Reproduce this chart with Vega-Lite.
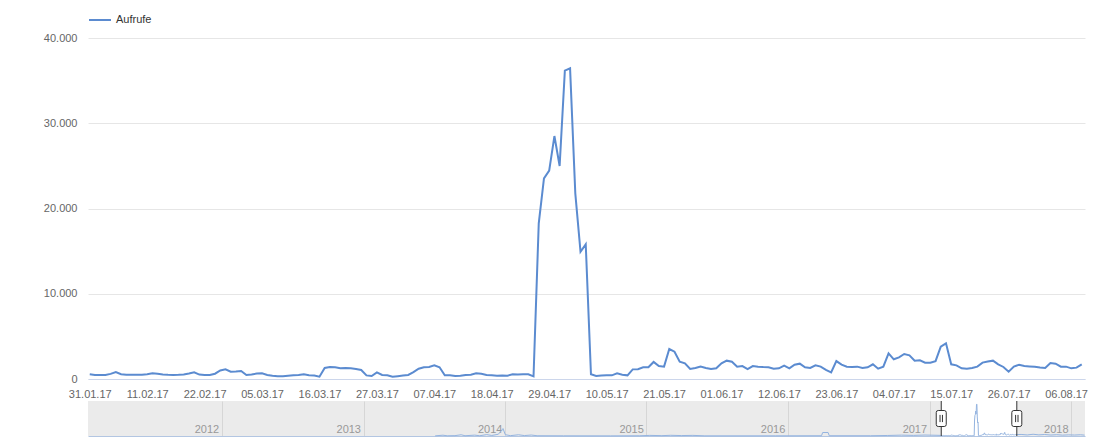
{
  "$schema": "https://vega.github.io/schema/vega-lite/v6.json",
  "padding": {"left": 43, "top": 8, "right": 0, "bottom": 0},
  "background": "white",
  "config": {
    "view": {"stroke": null},
    "font": "Liberation Sans",
    "axis": {"labelFont": "Liberation Sans"},
    "legend": {"labelFont": "Liberation Sans"}
  },
  "datasets": {
    "main": [
      {"d":"2017-01-31","v":550},
      {"d":"2017-02-01","v":470},{"d":"2017-02-02","v":460},{"d":"2017-02-03","v":480},{"d":"2017-02-04","v":600},{"d":"2017-02-05","v":820},{"d":"2017-02-06","v":560},{"d":"2017-02-07","v":500},{"d":"2017-02-08","v":490},{"d":"2017-02-09","v":510},{"d":"2017-02-10","v":500},{"d":"2017-02-11","v":560},{"d":"2017-02-12","v":660},{"d":"2017-02-13","v":620},{"d":"2017-02-14","v":540},{"d":"2017-02-15","v":500},{"d":"2017-02-16","v":480},{"d":"2017-02-17","v":490},{"d":"2017-02-18","v":520},{"d":"2017-02-19","v":640},{"d":"2017-02-20","v":780},{"d":"2017-02-21","v":520},{"d":"2017-02-22","v":470},{"d":"2017-02-23","v":480},{"d":"2017-02-24","v":620},{"d":"2017-02-25","v":1000},{"d":"2017-02-26","v":1130},{"d":"2017-02-27","v":860},{"d":"2017-02-28","v":880},
      {"d":"2017-03-01","v":940},{"d":"2017-03-02","v":470},{"d":"2017-03-03","v":520},{"d":"2017-03-04","v":640},{"d":"2017-03-05","v":660},{"d":"2017-03-06","v":480},{"d":"2017-03-07","v":380},{"d":"2017-03-08","v":330},{"d":"2017-03-09","v":320},{"d":"2017-03-10","v":380},{"d":"2017-03-11","v":430},{"d":"2017-03-12","v":470},{"d":"2017-03-13","v":550},{"d":"2017-03-14","v":450},{"d":"2017-03-15","v":400},{"d":"2017-03-16","v":270},{"d":"2017-03-17","v":1300},{"d":"2017-03-18","v":1400},{"d":"2017-03-19","v":1370},{"d":"2017-03-20","v":1250},{"d":"2017-03-21","v":1300},{"d":"2017-03-22","v":1250},{"d":"2017-03-23","v":1180},{"d":"2017-03-24","v":1060},{"d":"2017-03-25","v":420},{"d":"2017-03-26","v":350},{"d":"2017-03-27","v":780},{"d":"2017-03-28","v":470},{"d":"2017-03-29","v":430},{"d":"2017-03-30","v":270},{"d":"2017-03-31","v":330},
      {"d":"2017-04-01","v":400},{"d":"2017-04-02","v":470},{"d":"2017-04-03","v":800},{"d":"2017-04-04","v":1200},{"d":"2017-04-05","v":1370},{"d":"2017-04-06","v":1410},{"d":"2017-04-07","v":1600},{"d":"2017-04-08","v":1370},{"d":"2017-04-09","v":430},{"d":"2017-04-10","v":430},{"d":"2017-04-11","v":350},{"d":"2017-04-12","v":370},{"d":"2017-04-13","v":470},{"d":"2017-04-14","v":500},{"d":"2017-04-15","v":660},{"d":"2017-04-16","v":620},{"d":"2017-04-17","v":470},{"d":"2017-04-18","v":430},{"d":"2017-04-19","v":390},{"d":"2017-04-20","v":400},{"d":"2017-04-21","v":390},{"d":"2017-04-22","v":550},{"d":"2017-04-23","v":520},{"d":"2017-04-24","v":560},{"d":"2017-04-25","v":550},{"d":"2017-04-26","v":310},{"d":"2017-04-27","v":18260},{"d":"2017-04-28","v":23540},{"d":"2017-04-29","v":24440},{"d":"2017-04-30","v":28500},
      {"d":"2017-05-01","v":24990},{"d":"2017-05-02","v":36170},{"d":"2017-05-03","v":36440},{"d":"2017-05-04","v":21780},{"d":"2017-05-05","v":14930},{"d":"2017-05-06","v":15800},{"d":"2017-05-07","v":550},{"d":"2017-05-08","v":350},{"d":"2017-05-09","v":420},{"d":"2017-05-10","v":430},{"d":"2017-05-11","v":430},{"d":"2017-05-12","v":660},{"d":"2017-05-13","v":500},{"d":"2017-05-14","v":430},{"d":"2017-05-15","v":1130},{"d":"2017-05-16","v":1150},{"d":"2017-05-17","v":1370},{"d":"2017-05-18","v":1370},{"d":"2017-05-19","v":2000},{"d":"2017-05-20","v":1520},{"d":"2017-05-21","v":1450},{"d":"2017-05-22","v":3520},{"d":"2017-05-23","v":3200},{"d":"2017-05-24","v":2030},{"d":"2017-05-25","v":1840},{"d":"2017-05-26","v":1170},{"d":"2017-05-27","v":1300},{"d":"2017-05-28","v":1450},{"d":"2017-05-29","v":1300},{"d":"2017-05-30","v":1170},{"d":"2017-05-31","v":1250},
      {"d":"2017-06-01","v":1840},{"d":"2017-06-02","v":2150},{"d":"2017-06-03","v":2030},{"d":"2017-06-04","v":1450},{"d":"2017-06-05","v":1520},{"d":"2017-06-06","v":1170},{"d":"2017-06-07","v":1520},{"d":"2017-06-08","v":1450},{"d":"2017-06-09","v":1400},{"d":"2017-06-10","v":1370},{"d":"2017-06-11","v":1210},{"d":"2017-06-12","v":1250},{"d":"2017-06-13","v":1560},{"d":"2017-06-14","v":1250},{"d":"2017-06-15","v":1680},{"d":"2017-06-16","v":1800},{"d":"2017-06-17","v":1370},{"d":"2017-06-18","v":1290},{"d":"2017-06-19","v":1600},{"d":"2017-06-20","v":1450},{"d":"2017-06-21","v":1060},{"d":"2017-06-22","v":780},{"d":"2017-06-23","v":2100},{"d":"2017-06-24","v":1680},{"d":"2017-06-25","v":1450},{"d":"2017-06-26","v":1410},{"d":"2017-06-27","v":1450},{"d":"2017-06-28","v":1290},{"d":"2017-06-29","v":1370},{"d":"2017-06-30","v":1720},
      {"d":"2017-07-01","v":1210},{"d":"2017-07-02","v":1450},{"d":"2017-07-03","v":3010},{"d":"2017-07-04","v":2310},{"d":"2017-07-05","v":2540},{"d":"2017-07-06","v":2930},{"d":"2017-07-07","v":2780},{"d":"2017-07-08","v":2150},{"d":"2017-07-09","v":2190},{"d":"2017-07-10","v":1920},{"d":"2017-07-11","v":1900},{"d":"2017-07-12","v":2100},{"d":"2017-07-13","v":3790},{"d":"2017-07-14","v":4180},{"d":"2017-07-15","v":1720},{"d":"2017-07-16","v":1600},{"d":"2017-07-17","v":1250},{"d":"2017-07-18","v":1210},{"d":"2017-07-19","v":1300},{"d":"2017-07-20","v":1450},{"d":"2017-07-21","v":1920},{"d":"2017-07-22","v":2050},{"d":"2017-07-23","v":2150},{"d":"2017-07-24","v":1720},{"d":"2017-07-25","v":1410},{"d":"2017-07-26","v":860},{"d":"2017-07-27","v":1450},{"d":"2017-07-28","v":1680},{"d":"2017-07-29","v":1520},{"d":"2017-07-30","v":1480},{"d":"2017-07-31","v":1450},
      {"d":"2017-08-01","v":1350},{"d":"2017-08-02","v":1290},{"d":"2017-08-03","v":1880},{"d":"2017-08-04","v":1800},{"d":"2017-08-05","v":1450},{"d":"2017-08-06","v":1450},{"d":"2017-08-07","v":1250},{"d":"2017-08-08","v":1330},{"d":"2017-08-09","v":1720}
    ],
    "hist": [
      {"d":"2013-07-05","v":200,"seg":"a"},{"d":"2013-07-25","v":900,"seg":"a"},{"d":"2013-08-05","v":250,"seg":"a"},{"d":"2013-08-25","v":400,"seg":"a"},{"d":"2013-09-10","v":1400,"seg":"a"},{"d":"2013-09-20","v":300,"seg":"a"},{"d":"2013-10-15","v":1000,"seg":"a"},{"d":"2013-10-28","v":300,"seg":"a"},{"d":"2013-11-15","v":1600,"seg":"a"},{"d":"2013-11-28","v":600,"seg":"a"},{"d":"2013-12-15","v":2000,"seg":"a"},{"d":"2013-12-27","v":8500,"seg":"a"},{"d":"2014-01-02","v":1500,"seg":"a"},{"d":"2014-01-15","v":400,"seg":"a"},{"d":"2014-02-05","v":1400,"seg":"a"},{"d":"2014-02-20","v":500,"seg":"a"},{"d":"2014-03-10","v":1100,"seg":"a"},{"d":"2014-03-25","v":300,"seg":"a"},{"d":"2014-06-01","v":200,"seg":"a"},{"d":"2014-10-01","v":150,"seg":"a"},{"d":"2014-12-15","v":250,"seg":"a"},{"d":"2015-01-10","v":700,"seg":"a"},{"d":"2015-02-10","v":400,"seg":"a"},{"d":"2015-03-05","v":800,"seg":"a"},{"d":"2015-04-01","v":500,"seg":"a"},{"d":"2015-05-01","v":700,"seg":"a"},{"d":"2015-06-01","v":200,"seg":"a"},{"d":"2015-12-01","v":200,"seg":"a"},{"d":"2016-03-28","v":300,"seg":"a"},{"d":"2016-03-31","v":4000,"seg":"a"},{"d":"2016-04-14","v":4000,"seg":"a"},{"d":"2016-04-17","v":300,"seg":"a"},{"d":"2016-08-01","v":300,"seg":"a"},{"d":"2016-09-15","v":600,"seg":"a"},{"d":"2016-10-20","v":1000,"seg":"a"},{"d":"2016-11-20","v":700,"seg":"a"},{"d":"2016-12-20","v":1100,"seg":"a"},{"d":"2017-01-30","v":700,"seg":"a"},
      {"d":"2017-08-10","v":1500,"seg":"b"},{"d":"2017-08-25","v":1800,"seg":"b"},{"d":"2017-09-10","v":1200,"seg":"b"},{"d":"2017-09-25","v":2000,"seg":"b"},{"d":"2017-10-10","v":1300,"seg":"b"},{"d":"2017-10-25","v":1700,"seg":"b"},{"d":"2017-11-10","v":1100,"seg":"b"},{"d":"2017-11-25","v":1500,"seg":"b"},{"d":"2017-12-10","v":1000,"seg":"b"},{"d":"2017-12-25","v":1300,"seg":"b"},{"d":"2018-01-10","v":1100,"seg":"b"},{"d":"2018-01-25","v":1400,"seg":"b"},{"d":"2018-02-05","v":1000,"seg":"b"}
    ],
    "sel": [{"s":"2017-01-31","e":"2017-08-14"}],
    "handles": [{"h":"2017-01-31"},{"h":"2017-08-14"}]
  },
  "bounds": "flush",
  "spacing": 22,
  "resolve": {"scale": {"color": "independent", "x": "independent", "y": "independent"}, "legend": {"color": "independent"}},
  "vconcat": [
    {
      "width": 997,
      "height": 341,
      "data": {"name": "main"},
      "mark": {"type": "line", "strokeWidth": 2, "interpolate": "linear"},
      "encoding": {
        "x": {
          "field": "d", "type": "temporal",
          "scale": {"type": "utc", "nice": false, "domain": [{"utc": true, "year": 2017, "month": 1, "date": 30, "hours": 16}, {"utc": true, "year": 2017, "month": 8, "date": 9, "hours": 15}]},
          "axis": {
            "title": null,
            "values": [
              {"utc": true, "year": 2017, "month": 1, "date": 31},
              {"utc": true, "year": 2017, "month": 2, "date": 11},
              {"utc": true, "year": 2017, "month": 2, "date": 22},
              {"utc": true, "year": 2017, "month": 3, "date": 5},
              {"utc": true, "year": 2017, "month": 3, "date": 16},
              {"utc": true, "year": 2017, "month": 3, "date": 27},
              {"utc": true, "year": 2017, "month": 4, "date": 7},
              {"utc": true, "year": 2017, "month": 4, "date": 18},
              {"utc": true, "year": 2017, "month": 4, "date": 29},
              {"utc": true, "year": 2017, "month": 5, "date": 10},
              {"utc": true, "year": 2017, "month": 5, "date": 21},
              {"utc": true, "year": 2017, "month": 6, "date": 1},
              {"utc": true, "year": 2017, "month": 6, "date": 12},
              {"utc": true, "year": 2017, "month": 6, "date": 23},
              {"utc": true, "year": 2017, "month": 7, "date": 4},
              {"utc": true, "year": 2017, "month": 7, "date": 15},
              {"utc": true, "year": 2017, "month": 7, "date": 26},
              {"utc": true, "year": 2017, "month": 8, "date": 6}
            ],
            "labelExpr": "utcFormat(datum.value, '%d.%m.%y')",
            "grid": false,
            "ticks": false,
            "tickSize": 0,
            "domainColor": "#ccd6eb",
            "domainWidth": 1,
            "labelPadding": 9,
            "labelFlush": false,
            "labelOverlap": false,
            "labelColor": "#666666",
            "labelFontSize": 11
          }
        },
        "y": {
          "field": "v", "type": "quantitative",
          "scale": {"domain": [0, 40000], "nice": false},
          "axis": {
            "title": null,
            "values": [0, 10000, 20000, 30000, 40000],
            "labelExpr": "replace(format(datum.value, ','), ',', '.')",
            "domain": false,
            "ticks": false,
            "tickSize": 0,
            "gridColor": "#e6e6e6",
            "labelPadding": 11,
            "labelColor": "#666666",
            "labelFontSize": 11
          }
        },
        "color": {
          "datum": "Aufrufe", "type": "nominal",
          "scale": {"range": ["#5b8bd0"]},
          "legend": {
            "title": null,
            "orient": "none",
            "legendX": 0,
            "legendY": -30,
            "padding": 0,
            "symbolType": "stroke",
            "symbolSize": 484,
            "symbolStrokeWidth": 2,
            "labelFontSize": 11,
            "labelColor": "#333333",
            "labelOffset": 4
          }
        }
      }
    },
    {
      "width": 997,
      "height": 35,
      "view": {"fill": "#ebebeb", "stroke": null},
      "layer": [
        {
          "data": {"name": "sel"},
          "mark": {"type": "rect", "fill": "white"},
          "encoding": {
            "x": {
              "field": "s", "type": "temporal",
              "scale": {"type": "utc", "nice": false, "domain": [{"utc": true, "year": 2011, "month": 1, "date": 21}, {"utc": true, "year": 2018, "month": 2, "date": 6}]},
              "axis": {
                "title": null,
                "values": [
                  {"utc": true, "year": 2012, "month": 1, "date": 1},
                  {"utc": true, "year": 2013, "month": 1, "date": 1},
                  {"utc": true, "year": 2014, "month": 1, "date": 1},
                  {"utc": true, "year": 2015, "month": 1, "date": 1},
                  {"utc": true, "year": 2016, "month": 1, "date": 1},
                  {"utc": true, "year": 2017, "month": 1, "date": 1},
                  {"utc": true, "year": 2018, "month": 1, "date": 1}
                ],
                "labelExpr": "utcFormat(datum.value, '%Y')",
                "grid": true,
                "gridColor": "#d6d6d6",
                "ticks": false,
                "tickSize": 0,
                "domainColor": "#b3c6e2",
                "labelAlign": "right",
                "labelBaseline": "alphabetic",
                "labelPadding": -4,
                "labelOffset": -3,
                "labelColor": "#999999",
                "labelFontSize": 11,
                "labelFlush": false,
                "labelOverlap": false
              }
            },
            "x2": {"field": "e"}
          }
        },
        {
          "data": {"name": "hist"},
          "mark": {"type": "line", "strokeWidth": 1, "color": "#94b4e0"},
          "encoding": {
            "x": {"field": "d", "type": "temporal"},
            "y": {"field": "v", "type": "quantitative", "scale": {"domain": [0, 40000], "nice": false}, "axis": null},
            "detail": {"field": "seg"}
          }
        },
        {
          "data": {"name": "main"},
          "mark": {"type": "line", "strokeWidth": 1, "color": "#94b4e0"},
          "encoding": {
            "x": {"field": "d", "type": "temporal"},
            "y": {"field": "v", "type": "quantitative", "axis": null}
          }
        },
        {
          "data": {"name": "handles"},
          "mark": {"type": "rule", "color": "#333333", "strokeWidth": 1},
          "encoding": {"x": {"field": "h", "type": "temporal"}}
        },
        {
          "data": {"name": "handles"},
          "mark": {
            "type": "point",
            "shape": "M-0.625,-0.75 Q-0.625,-1 -0.375,-1 L0.375,-1 Q0.625,-1 0.625,-0.75 L0.625,0.75 Q0.625,1 0.375,1 L-0.375,1 Q-0.625,1 -0.625,0.75 Z M-0.15,-0.45 L-0.15,0.45 M0.15,-0.45 L0.15,0.45",
            "size": 256,
            "filled": true,
            "fill": "white",
            "stroke": "#333333",
            "strokeWidth": 1,
            "opacity": 1
          },
          "encoding": {"x": {"field": "h", "type": "temporal"}}
        }
      ]
    }
  ]
}
